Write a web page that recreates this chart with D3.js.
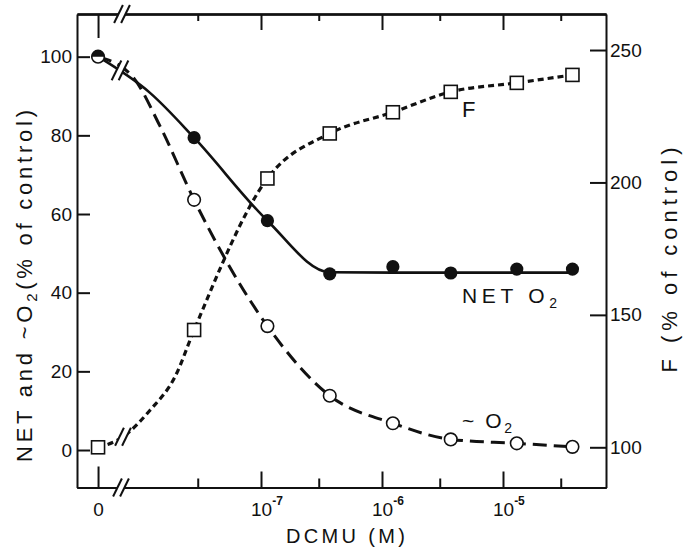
<!DOCTYPE html>
<html>
<head>
<meta charset="utf-8">
<script src="https://cdn.jsdelivr.net/npm/d3@7.9.0/dist/d3.min.js"></script>
<style>
  body { margin: 0; background: #fff; }
  svg text { font-family: "Liberation Sans", Arial, sans-serif; fill: #111; }
</style>
</head>
<body>
<svg id="chart" width="693" height="548"></svg>
<script>
// DCMU dose (M), 0 = control (drawn left of the log range, past the axis break)
const dose  = [0, 2.8e-8, 1.13e-7, 3.7e-7, 1.23e-6, 3.7e-6, 1.3e-5, 3.75e-5];
const netO2 = [100, 79.4, 58.3, 44.8, 46.6, 45.0, 46.0, 46.0];
const cycO2 = [100, 63.6, 31.5, 13.8, 6.8, 2.7, 1.7, 0.8];
const fluor = [100, 144.3, 201.5, 218.5, 226.5, 234.2, 237.6, 240.6];

// hand drawn fit curves (they don't hit every dot)
const netFitDose = [0, 1.21e-8, 2.8e-8, 1.13e-7, 3.7e-7, 1.23e-6, 3.75e-5];
const netFitVal  = [100, 90.8, 79.4, 58.3, 45.2, 45.1, 45.1];
const cycFitDose = [0, 8.75e-9, 1.46e-8, 2.8e-8, 1.13e-7, 3.7e-7, 1.23e-6, 3.7e-6, 1.3e-5, 3.75e-5];
const cycFitVal  = [100, 94.8, 82.4, 63.6, 31.5, 13.8, 6.8, 2.7, 1.7, 0.8];
const fFitDose = [0, 7.2e-9, 1.21e-8, 1.95e-8, 2.8e-8, 1.13e-7, 3.7e-7, 1.23e-6, 3.7e-6, 1.3e-5, 3.75e-5];
const fFitVal  = [100, 103.9, 114, 126.7, 144.3, 201.5, 218.5, 226.5, 234.2, 237.6, 240.6];

const leftTicks  = [0, 20, 40, 60, 80, 100];
const rightTicks = [100, 150, 200, 250];
const majorX = [1e-7, 1e-6, 1e-5];
const majorExp = ["-7", "-6", "-5"];
const minorX = [3e-8, 3e-7, 3e-6, 3e-5];
const zeroAt = 4.5e-9; // where the "0" dose sits

const L = 77, R = 606, T = 14, B = 487.5;
const svg = d3.select("#chart");

const x = d3.scaleLog().domain([3.015e-9, 7.1e-5]).range([L, R]);
const y = d3.scaleLinear().domain([-9.53, 110.85]).range([B, T]);
const yR = d3.scaleLinear().domain([84.82, 263.6]).range([B, T]);
const xd = d => x(d === 0 ? zeroAt : d);

// axes, ticks point inward
function styleAxis(g) {
  g.selectAll("path.domain").attr("stroke", "#111").attr("stroke-width", 2);
  g.selectAll(".tick line").attr("stroke", "#111").attr("stroke-width", 2);
  g.selectAll(".tick text").attr("font-size", 19).attr("fill", "#111").style("font-family", "Liberation Sans, Arial, sans-serif");
}

svg.append("g").attr("transform", `translate(${L},0)`)
  .call(d3.axisLeft(y).tickValues(leftTicks).tickSize(-13).tickSizeOuter(0).tickPadding(5))
  .call(styleAxis);
svg.append("g").attr("transform", `translate(${R},0)`)
  .call(d3.axisRight(yR).tickValues(rightTicks).tickSize(-16).tickSizeOuter(0).tickPadding(4))
  .call(styleAxis);

// bottom
svg.append("g").attr("transform", `translate(0,${B})`)
  .call(d3.axisBottom(x).tickValues(majorX).tickSize(-16).tickSizeOuter(0).tickFormat(() => ""))
  .call(styleAxis);
svg.append("g").attr("transform", `translate(0,${B})`)
  .call(d3.axisBottom(x).tickValues(minorX).tickSize(-9).tickSizeOuter(0).tickFormat(() => ""))
  .call(styleAxis);
svg.append("g").attr("transform", `translate(0,${B})`)
  .call(d3.axisBottom(x).tickValues([zeroAt]).tickSize(-21).tickSizeOuter(0).tickPadding(15).tickFormat(() => "0"))
  .call(styleAxis);
// top
svg.append("g").attr("transform", `translate(0,${T})`)
  .call(d3.axisTop(x).tickValues(majorX).tickSize(-16).tickSizeOuter(0).tickFormat(() => ""))
  .call(styleAxis);
svg.append("g").attr("transform", `translate(0,${T})`)
  .call(d3.axisTop(x).tickValues(minorX).tickSize(-7).tickSizeOuter(0).tickFormat(() => ""))
  .call(styleAxis);
svg.append("g").attr("transform", `translate(0,${T})`)
  .call(d3.axisTop(x).tickValues([zeroAt]).tickSize(-24).tickSizeOuter(0).tickFormat(() => ""))
  .call(styleAxis);

// 10^n labels
majorX.forEach((v, i) => {
  const t = svg.append("text").attr("x", x(v) - 10).attr("y", B + 28).attr("font-size", 19);
  t.append("tspan").text("10");
  t.append("tspan").attr("dy", -11).attr("font-size", 12).attr("font-weight", "bold").text(majorExp[i]);
});

// curves
const curveLine = (xs, sc) => d3.line().x((d, i) => xd(xs[i])).y(d => sc(d)).curve(d3.curveMonotoneX);

const cyc = svg.append("path").attr("d", curveLine(cycFitDose, y)(cycFitVal)).attr("fill", "none")
  .attr("stroke", "#111").attr("stroke-width", 3).attr("stroke-dasharray", "14,7");
const net = svg.append("path").attr("d", curveLine(netFitDose, y)(netFitVal)).attr("fill", "none")
  .attr("stroke", "#111").attr("stroke-width", 2.6);
const fl = svg.append("path").attr("d", curveLine(fFitDose, yR)(fFitVal)).attr("fill", "none")
  .attr("stroke", "#111").attr("stroke-width", 3.2).attr("stroke-dasharray", "6,4");

// find y on a path at a given x
function yOnPath(node, bx) {
  let lo = 0, hi = node.getTotalLength();
  for (let k = 0; k < 40; k++) {
    const mid = (lo + hi) / 2;
    if (node.getPointAtLength(mid).x < bx) lo = mid; else hi = mid;
  }
  return node.getPointAtLength(lo).y;
}

function breakMark(cx, cy, len) {
  const dx = len * 0.22, dy = len * 0.45;
  svg.append("line").attr("x1", cx - dx).attr("y1", cy + dy).attr("x2", cx + dx).attr("y2", cy - dy)
    .attr("stroke", "#fff").attr("stroke-width", 6);
  [-3.5, 3.5].forEach(o => {
    svg.append("line").attr("x1", cx + o - dx).attr("y1", cy + dy).attr("x2", cx + o + dx).attr("y2", cy - dy)
      .attr("stroke", "#111").attr("stroke-width", 2);
  });
}
breakMark(121, B, 20);
breakMark(122, T, 20);
breakMark(120, yOnPath(net.node(), 120), 22);
breakMark(123, yOnPath(fl.node(), 123), 20);

// markers
svg.append("g").selectAll("rect").data(fluor).join("rect")
  .attr("x", (d, i) => xd(dose[i]) - 6.5).attr("y", d => yR(d) - 6.5)
  .attr("width", 13).attr("height", 13)
  .attr("fill", "#fff").attr("stroke", "#111").attr("stroke-width", 1.6);

svg.append("g").selectAll("circle").data(cycO2).join("circle")
  .attr("cx", (d, i) => xd(dose[i])).attr("cy", d => y(d)).attr("r", 6.3)
  .attr("fill", "#fff").attr("stroke", "#111").attr("stroke-width", 1.6);

svg.append("g").selectAll("circle").data(netO2.slice(1)).join("circle")
  .attr("cx", (d, i) => xd(dose[i + 1])).attr("cy", d => y(d)).attr("r", 6.6)
  .attr("fill", "#111");
// control point: both series at 100, drawn half filled
const half = d3.arc().innerRadius(0).outerRadius(6.6).startAngle(-Math.PI / 2).endAngle(Math.PI / 2);
svg.append("path").attr("d", half()).attr("fill", "#111")
  .attr("transform", `translate(${xd(dose[0])},${y(netO2[0])})`);

// labels
const yl = svg.append("text").attr("transform", "translate(32,286) rotate(-90)")
  .attr("text-anchor", "middle").attr("font-size", 22)
  .attr("textLength", 352).attr("lengthAdjust", "spacing");
yl.append("tspan").text("NET and ~O");
yl.append("tspan").attr("font-size", 15).attr("dy", 5).text("2");
yl.append("tspan").attr("dy", -5).text("(% of control)");

svg.append("text").attr("transform", "translate(677,260) rotate(-90)")
  .attr("text-anchor", "middle").attr("font-size", 22)
  .attr("textLength", 225).attr("lengthAdjust", "spacing")
  .text("F (% of control)");

svg.append("text").attr("x", 345.5).attr("y", 543).attr("text-anchor", "middle")
  .attr("font-size", 20).attr("textLength", 119).attr("lengthAdjust", "spacing")
  .text("DCMU (M)");

svg.append("text").attr("x", 462).attr("y", 117).attr("font-size", 22).text("F");

const nl = svg.append("text").attr("x", 462).attr("y", 303).attr("font-size", 21)
  .attr("textLength", 95).attr("lengthAdjust", "spacing");
nl.append("tspan").text("NET  O");
nl.append("tspan").attr("font-size", 14).attr("dy", 5).text("2");

const cl = svg.append("text").attr("x", 462).attr("y", 428).attr("font-size", 21)
  .attr("textLength", 50).attr("lengthAdjust", "spacing");
cl.append("tspan").text("~ O");
cl.append("tspan").attr("font-size", 14).attr("dy", 5).text("2");
</script>
</body>
</html>
